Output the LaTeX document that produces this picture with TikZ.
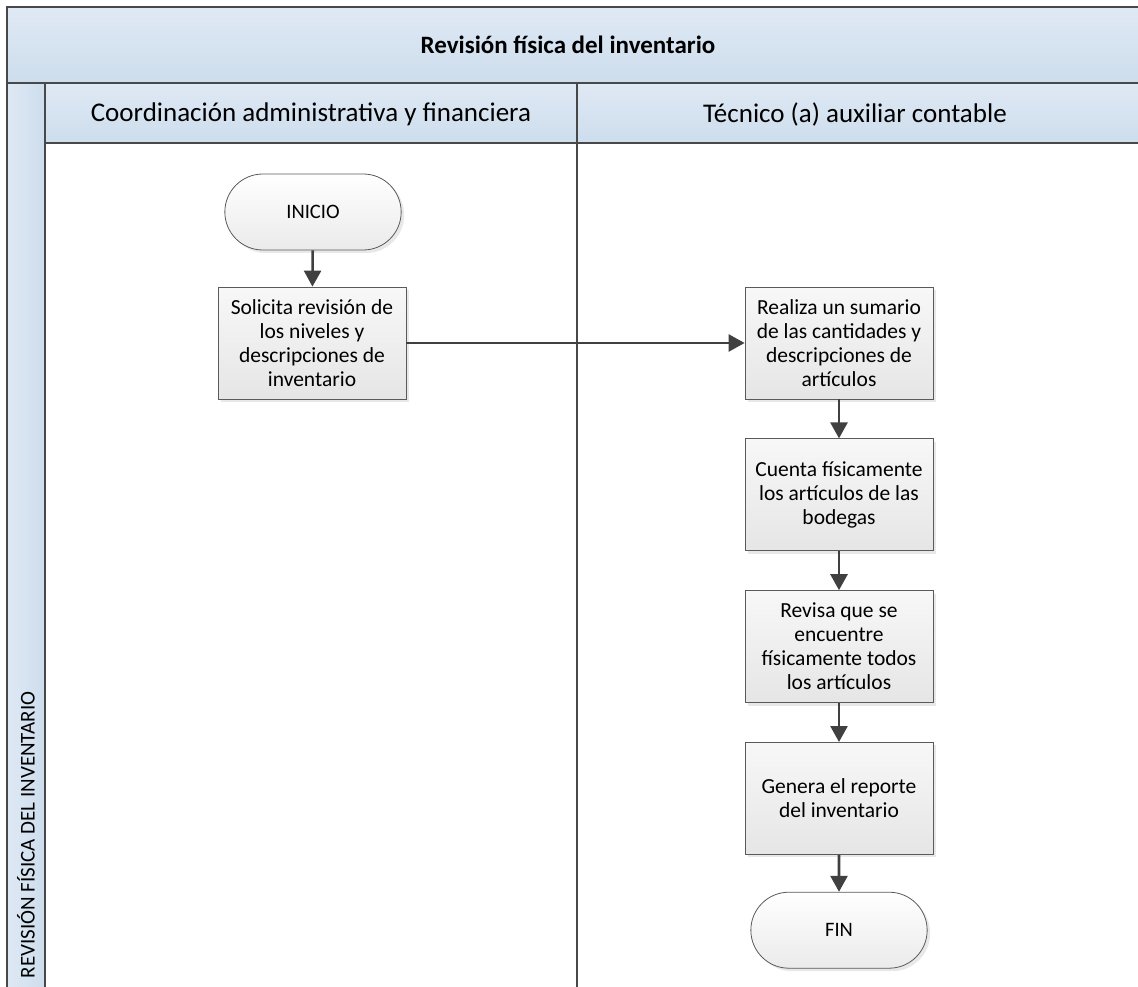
\documentclass[tikz,border=0pt]{standalone}
\usepackage{fontspec}
\setmainfont{Carlito}
\usetikzlibrary{arrows.meta, positioning, shapes.misc, shadows}

\definecolor{bandtop}{RGB}{223,233,244}
\definecolor{bandbot}{RGB}{205,221,237}
\definecolor{framegray}{RGB}{72,72,72}
\definecolor{boxline}{RGB}{90,90,90}
\definecolor{arrowgray}{RGB}{64,64,64}

\begin{document}
\begin{tikzpicture}[
	x=1pt, y=-1pt,
	node distance=39pt,
	frame/.style={draw=framegray, line width=2pt},
	lane_title/.style={font=\fontsize{27}{31}\selectfont},
	process/.style={rectangle, draw=boxline, line width=0.8pt, top color=black!3, bottom color=black!10,
		minimum width=188pt, minimum height=112pt, align=center,
		font=\fontsize{21.5}{24}\selectfont,
		drop shadow={shadow xshift=3pt, shadow yshift=-3pt, fill=black!18}},
	terminal/.style={rounded rectangle, draw=boxline, line width=0.8pt, top color=white, bottom color=black!8,
		minimum width=183pt, minimum height=76pt, font=\fontsize{20.5}{24}\selectfont,
		drop shadow={shadow xshift=3pt, shadow yshift=-3pt, fill=black!18}},
	flow/.style={draw=arrowgray, line width=2.6pt, -{Triangle[width=17pt, length=16pt]}}
	]
	\useasboundingbox (0,0) rectangle (1138,987);
	\clip (0,0) rectangle (1138,987);
	
	% --- CARRIL Y ENCABEZADOS ---
	\fill[top color=bandtop, bottom color=bandbot] (7,7) rectangle (1150,83);
	\fill[left color=bandtop, right color=bandbot] (7,83) rectangle (45,1000);
	\fill[top color=bandtop, bottom color=bandbot] (45,83) rectangle (1150,143);
	\draw[frame] (7,1000) -- (7,7) -- (1150,7);
	\draw[frame] (7,83) -- (1150,83);
	\draw[frame] (45,83) -- (45,1000);
	\draw[frame] (45,143) -- (1150,143);
	\draw[frame] (577,83) -- (577,1000);
	
	\node[font=\bfseries\fontsize{25}{29}\selectfont] (title) at (568,45) {Revisión física del inventario};
	\node[lane_title] (lane1) at (311,114) {Coordinación administrativa y financiera};
	\node[lane_title] (lane2) at (855,114) {Técnico (a) auxiliar contable};
	\node[rotate=90, font=\fontsize{21}{24}\selectfont] (phase) at (26,835) {REVISIÓN FÍSICA DEL INVENTARIO};
	
	% --- NODOS DEL FLUJO ---
	\node[terminal] (inicio) at (313,212) {INICIO};
	\node[process] (solicita) at (312,343) {Solicita revisión de\\los niveles y\\descripciones de\\inventario};
	\node[process] (sumario) at (839,343) {Realiza un sumario\\de las cantidades y\\descripciones de\\artículos};
	\node[process, below=of sumario] (cuenta) {Cuenta físicamente\\los artículos de las\\bodegas};
	\node[process, below=of cuenta] (revisa) {Revisa que se\\encuentre\\físicamente todos\\los artículos};
	\node[process, below=of revisa] (genera) {Genera el reporte\\del inventario};
	\node[terminal, below=37pt of genera] (fin) {FIN};
	
	% --- CONECTORES ---
	\draw[flow] (inicio) -- (solicita);
	\draw[flow] (solicita) -- (sumario);
	\draw[flow] (sumario) -- (cuenta);
	\draw[flow] (cuenta) -- (revisa);
	\draw[flow] (revisa) -- (genera);
	\draw[flow] (genera) -- (fin);
	
\end{tikzpicture}
\end{document}
